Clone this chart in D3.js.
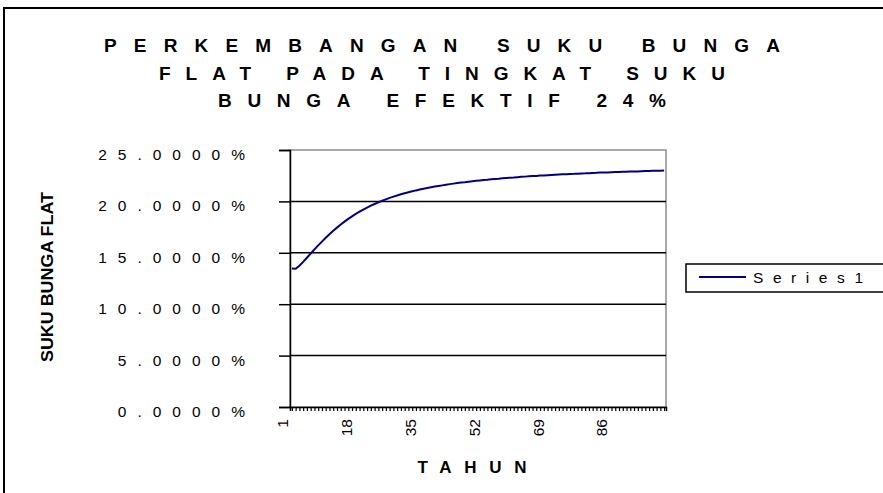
<!DOCTYPE html>
<html>
<head>
<meta charset="utf-8">
<script src="https://cdn.jsdelivr.net/npm/d3@7"></script>
<style>
  body { margin: 0; background: #fff; }
  text { font-family: "Liberation Sans", Arial, sans-serif; }
</style>
</head>
<body>
<script>
// data
const titleLines = ["PERKEMBANGAN SUKU BUNGA", "FLAT PADA TINGKAT SUKU", "BUNGA EFEKTIF 24%"];
const years = d3.range(1, 101);
const flatRate = [
  13.47, 13.45, 13.75, 14.12, 14.52, 14.93, 15.33, 15.72, 16.09, 16.46,
  16.81, 17.14, 17.45, 17.75, 18.03, 18.30, 18.55, 18.78, 19.00, 19.21,
  19.40, 19.58, 19.75, 19.91, 20.06, 20.20, 20.34, 20.46, 20.58, 20.69,
  20.79, 20.89, 20.98, 21.07, 21.15, 21.23, 21.30, 21.37, 21.44, 21.50,
  21.56, 21.62, 21.68, 21.73, 21.78, 21.83, 21.87, 21.92, 21.96, 22.00,
  22.04, 22.08, 22.11, 22.15, 22.18, 22.21, 22.25, 22.28, 22.31, 22.33,
  22.36, 22.39, 22.41, 22.44, 22.46, 22.48, 22.51, 22.53, 22.55, 22.57,
  22.59, 22.61, 22.63, 22.65, 22.67, 22.68, 22.70, 22.72, 22.73, 22.75,
  22.77, 22.78, 22.80, 22.81, 22.82, 22.84, 22.85, 22.86, 22.88, 22.89,
  22.90, 22.91, 22.92, 22.94, 22.95, 22.96, 22.97, 22.98, 22.99, 23.00
];
const yTicks = [0, 5, 10, 15, 20, 25];
const seriesName = "Series1";
const xTitle = "TAHUN";
const yTitle = "SUKU BUNGA FLAT";

const w = 883, h = 493;
const pLeft = 290, pRight = 666, pTop = 150, pBottom = 407;
const narrow = "'Liberation Sans Narrow', 'Arial Narrow', 'Liberation Sans', sans-serif";

const svg = d3.select("body").append("svg")
  .attr("width", w)
  .attr("height", h);

// chart border
svg.append("rect")
  .attr("x", 4).attr("y", 8)
  .attr("width", 910).attr("height", 520)
  .attr("fill", "none")
  .attr("stroke", "#000")
  .attr("stroke-width", 2);

// title
const titleWidths = [676, 566, 448];
svg.selectAll("text.title")
  .data(titleLines)
  .enter()
  .append("text")
  .attr("class", "title")
  .attr("x", 442)
  .attr("y", (d, i) => 52 + i * 27.5)
  .attr("text-anchor", "middle")
  .attr("font-size", 19)
  .attr("font-weight", "bold")
  .style("font-family", narrow)
  .attr("textLength", (d, i) => titleWidths[i])
  .attr("lengthAdjust", "spacing")
  .text(d => d);

const xScale = d3.scalePoint()
  .domain(years)
  .range([pLeft, pRight])
  .padding(0.5);

const yScale = d3.scaleLinear()
  .domain([0, 25])
  .range([pBottom, pTop]);

// plot area border (grey)
svg.append("rect")
  .attr("x", pLeft).attr("y", pTop)
  .attr("width", pRight - pLeft).attr("height", pBottom - pTop)
  .attr("fill", "none")
  .attr("stroke", "#8c8c8c")
  .attr("stroke-width", 1.5);

// gridlines
svg.selectAll("line.grid")
  .data(yTicks.filter(d => d > 0 && d < 25))
  .enter()
  .append("line")
  .attr("class", "grid")
  .attr("x1", pLeft).attr("x2", pRight)
  .attr("y1", d => yScale(d)).attr("y2", d => yScale(d))
  .attr("stroke", "#000")
  .attr("stroke-width", 1.5);

// y axis
const yAxis = d3.axisLeft(yScale)
  .tickValues(yTicks)
  .tickSize(11)
  .tickFormat(d => d3.format(".4f")(d) + "%");

const gy = svg.append("g")
  .attr("transform", "translate(" + pLeft + ",0)")
  .call(yAxis);
gy.select(".domain").attr("stroke", "#000").attr("stroke-width", 1.5);
gy.selectAll(".tick line").attr("stroke", "#000").attr("stroke-width", 1.5);
gy.selectAll(".tick text")
  .attr("x", -45 + 11)
  .attr("dy", "0.35em")
  .attr("y", 4)
  .attr("font-size", 15.5)
  .attr("letter-spacing", "11px")
  .attr("fill", "#000")
  .attr("font-family", "'Liberation Sans', Arial, sans-serif");

// x axis
const xAxis = d3.axisBottom(xScale)
  .tickValues(years)
  .tickSize(4)
  .tickFormat(d => (d - 1) % 17 === 0 ? d : "");

const gx = svg.append("g")
  .attr("transform", "translate(0," + pBottom + ")")
  .call(xAxis);
gx.select(".domain").attr("stroke", "#000").attr("stroke-width", 1.5);
gx.selectAll(".tick line").attr("stroke", "#000").attr("stroke-width", 1.2);
gx.selectAll(".tick text")
  .attr("x", 0).attr("y", 0).attr("dy", null)
  .attr("transform", "translate(-10,12) rotate(-90)")
  .attr("text-anchor", "end")
  .attr("dominant-baseline", "central")
  .attr("font-size", 15.5)
  .attr("fill", "#000")
  .attr("font-family", "'Liberation Sans', Arial, sans-serif");

// series line
const line = d3.line()
  .x((d, i) => xScale(years[i]))
  .y(d => yScale(d));

svg.append("path")
  .datum(flatRate)
  .attr("d", line)
  .attr("fill", "none")
  .attr("stroke", "#000080")
  .attr("stroke-width", 2);

// axis titles
svg.append("text")
  .attr("x", 472)
  .attr("y", 473)
  .attr("text-anchor", "middle")
  .attr("font-size", 17)
  .attr("font-weight", "bold")
  .style("font-family", narrow)
  .attr("textLength", 109)
  .attr("lengthAdjust", "spacing")
  .text(xTitle);

svg.append("text")
  .attr("transform", "translate(53,277) rotate(-90)")
  .attr("text-anchor", "middle")
  .attr("font-size", 16)
  .attr("font-weight", "bold")
  .attr("textLength", 170)
  .attr("lengthAdjust", "spacingAndGlyphs")
  .text(yTitle);

// legend
const lg = svg.append("g");
lg.append("rect")
  .attr("x", 686).attr("y", 264)
  .attr("width", 220).attr("height", 28)
  .attr("fill", "#fff")
  .attr("stroke", "#000")
  .attr("stroke-width", 1.5);
lg.append("line")
  .attr("x1", 699).attr("x2", 746)
  .attr("y1", 277).attr("y2", 277)
  .attr("stroke", "#000080")
  .attr("stroke-width", 2);
lg.append("text")
  .attr("x", 753)
  .attr("y", 283)
  .attr("font-size", 15.5)
  .attr("textLength", 110)
  .attr("lengthAdjust", "spacing")
  .text(seriesName);
</script>
</body>
</html>
